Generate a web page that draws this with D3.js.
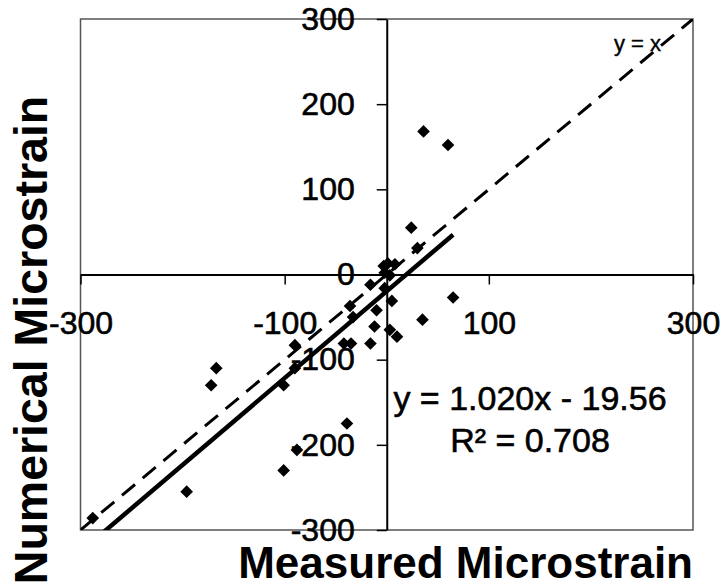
<!DOCTYPE html>
<html>
<head>
<meta charset="utf-8">
<style>
  body { margin: 0; background: #fff; }
  svg { display: block; font-family: "Liberation Sans", Arial, sans-serif; }
</style>
<title>Measured vs Numerical Microstrain</title>
</head>
<body>
<script src="https://cdn.jsdelivr.net/npm/d3@7"></script>
<script>

// measured (x) and numerical (y) microstrain
var measured  = [36, 60, 24, 30, 65, 35, -3, 1, 8, -2, 3, -16, -2, 5, -36, -10, -33, -12, 3, 10,
                 -42, -35, -16, -90, -167, -172, -90, -101, -88, -101, -196, -39, -288];
var numerical = [168, 152, 55, 31, -27, -53, 10, 13, 12, 2, -1, -12, -16, -31, -37, -42, -50, -61, -65, -73,
                 -81, -81, -81, -83, -110, -130, -110, -130, -206, -230, -255, -175, -286];

var xTicks = [-300, -100, 100, 300];
var yTicks = [-300, -200, -100, 0, 100, 200, 300];

// trendline as printed on the chart
var slope = 1.020, intercept = -19.56, r2 = 0.708;

var W = 724, H = 588;
var pLeft = 80.5, pRight = 693, pTop = 19, pBottom = 530;

var svg = d3.select("body").append("svg")
  .attr("width", W)
  .attr("height", H);

var x = d3.scaleLinear().domain([-300, 300]).range([pLeft, pRight]);
var y = d3.scaleLinear().domain([-300, 300]).range([pBottom, pTop]);

// plot frame
svg.append("rect")
  .attr("x", pLeft).attr("y", pTop)
  .attr("width", pRight - pLeft).attr("height", pBottom - pTop)
  .attr("fill", "none")
  .attr("stroke", "#555")
  .attr("stroke-width", 1.5);

svg.append("clipPath").attr("id", "plot")
  .append("rect")
  .attr("x", pLeft).attr("y", pTop)
  .attr("width", pRight - pLeft).attr("height", pBottom - pTop);

var fmt = function(d) { return String(d); };

// x axis through y = 0
var gx = svg.append("g")
  .attr("transform", "translate(0," + y(0) + ")")
  .call(d3.axisBottom(x).tickValues(xTicks).tickFormat(fmt).tickSize(10).tickSizeOuter(0).tickPadding(27));
// y axis through x = 0
var gy = svg.append("g")
  .attr("transform", "translate(" + x(0) + ",0)")
  .call(d3.axisLeft(y).tickValues(yTicks).tickFormat(fmt).tickSize(10).tickSizeOuter(0).tickPadding(22));

[gx, gy].forEach(function(g) {
  g.select(".domain").attr("stroke", "#000").attr("stroke-width", 2);
  g.selectAll(".tick line").attr("stroke", "#000").attr("stroke-width", 1.5);
  g.selectAll(".tick text")
    .attr("fill", "#000")
    .attr("stroke", "#000")
    .attr("stroke-width", 0.6)
    .style("font-size", "32px")
    .style("font-family", "Liberation Sans, Arial, sans-serif");
});

var lines = svg.append("g").attr("clip-path", "url(#plot)");

// y = x reference
lines.append("line")
  .attr("x1", x(-300)).attr("y1", y(-300))
  .attr("x2", x(300)).attr("y2", y(300))
  .attr("stroke", "#000")
  .attr("stroke-width", 3)
  .attr("stroke-dasharray", "17,10");

// linear trend across the measured range
var xmin = d3.min(measured), xmax = d3.max(measured);
lines.append("line")
  .attr("x1", x(xmin)).attr("y1", y(slope * xmin + intercept))
  .attr("x2", x(xmax)).attr("y2", y(slope * xmax + intercept))
  .attr("stroke", "#000")
  .attr("stroke-width", 4.5);

// diamonds
var diamond = d3.symbol().type(d3.symbolSquare).size(80);
svg.append("g")
  .selectAll("path")
  .data(measured)
  .enter().append("path")
    .attr("d", diamond)
    .attr("fill", "#000")
    .attr("transform", function(d, i) {
      return "translate(" + x(d) + "," + y(numerical[i]) + ") rotate(45)";
    });

// labels
svg.append("text")
  .attr("x", 661).attr("y", 51)
  .attr("text-anchor", "end")
  .attr("stroke", "#000")
  .attr("stroke-width", 0.4)
  .style("font-size", "22px")
  .text("y = x");

var eq = svg.append("text")
  .attr("text-anchor", "middle")
  .attr("stroke", "#000")
  .attr("stroke-width", 0.6)
  .style("font-size", "34px");
eq.append("tspan").attr("x", 530).attr("y", 410)
  .text("y = " + slope.toFixed(3) + "x - " + Math.abs(intercept).toFixed(2));
eq.append("tspan").attr("x", 530).attr("y", 452)
  .text("R² = " + r2.toFixed(3));

svg.append("text")
  .attr("x", 693).attr("y", 578)
  .attr("text-anchor", "end")
  .style("font-size", "44px")
  .style("font-weight", "bold")
  .text("Measured Microstrain");

svg.append("text")
  .attr("transform", "translate(47,340) rotate(-90)")
  .attr("text-anchor", "middle")
  .style("font-size", "46.5px")
  .style("font-weight", "bold")
  .text("Numerical Microstrain");

</script>
</body>
</html>
